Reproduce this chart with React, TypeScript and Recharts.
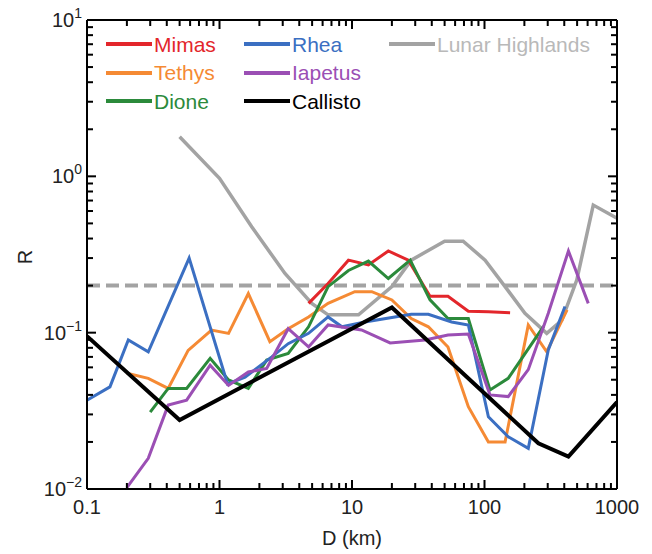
import React from 'react';
import { LineChart, Line, XAxis, YAxis, ReferenceLine } from 'recharts';

type Pt = { d: number; r: number };
const pts = (rows: number[][]): Pt[] => rows.map(([d, r]) => ({ d, r }));

// D (km) vs R
const mimas = pts([
  [4.7, 0.154], [6.6, 0.206], [9.4, 0.291], [13.3, 0.271], [18.8, 0.333], [26.6, 0.291],
  [38.8, 0.171], [53, 0.171], [75.5, 0.137], [107, 0.136], [156, 0.134],
]);
const tethys = pts([
  [0.2, 0.055], [0.29, 0.051], [0.41, 0.044], [0.58, 0.077], [0.87, 0.104], [1.17, 0.099],
  [1.65, 0.178], [2.4, 0.0875], [3.3, 0.106], [4.7, 0.126], [6.6, 0.154], [10.5, 0.183],
  [14.1, 0.183], [20, 0.162], [28, 0.123], [37.7, 0.109], [53, 0.081], [75.5, 0.0336],
  [107, 0.02], [143, 0.02], [214, 0.112], [295, 0.0755], [420, 0.14],
]);
const dione = pts([
  [0.3, 0.031], [0.41, 0.044], [0.565, 0.044], [0.85, 0.0686], [1.17, 0.0498], [1.65, 0.044],
  [2.27, 0.0668], [3.3, 0.0736], [4.7, 0.109], [6.6, 0.197], [9.4, 0.25], [13.3, 0.287],
  [18.8, 0.222], [27.5, 0.291], [38.8, 0.162], [53, 0.123], [75.5, 0.123], [110, 0.043],
  [151, 0.051], [280, 0.11],
]);
const rhea = pts([
  [0.1, 0.037], [0.149, 0.045], [0.205, 0.0897], [0.29, 0.0755], [0.59, 0.3], [1.15, 0.047],
  [1.56, 0.052], [2.48, 0.07], [3.3, 0.085], [4.7, 0.099], [6.6, 0.126], [8.4, 0.109],
  [12.5, 0.117], [20, 0.125], [28, 0.131], [37.7, 0.131], [56.5, 0.117], [75.5, 0.112],
  [107, 0.029], [151, 0.0216], [214, 0.0182], [303, 0.0775], [405, 0.147],
]);
const iapetus = pts([
  [0.2, 0.0102], [0.29, 0.0157], [0.41, 0.0344], [0.565, 0.037], [0.85, 0.062], [1.17, 0.046],
  [1.65, 0.056], [2.27, 0.059], [3.3, 0.106], [4.7, 0.081], [6.6, 0.112], [11.8, 0.104],
  [19.4, 0.086], [35.6, 0.0897], [53, 0.0966], [75.5, 0.098], [110, 0.04], [151, 0.039],
  [214, 0.058], [303, 0.133], [430, 0.333], [607, 0.154],
]);
const callisto = pts([
  [0.1, 0.095], [0.5, 0.0276], [20, 0.145], [255, 0.0196], [430, 0.0161], [1000, 0.036],
]);
const lunar = pts([
  [0.5, 1.79], [1.0, 0.97], [1.75, 0.476], [3.12, 0.239], [4.97, 0.154], [6.6, 0.13],
  [11.2, 0.13], [20, 0.197], [28, 0.291], [50, 0.385], [69, 0.385], [101, 0.291],
  [143, 0.197], [202, 0.133], [295, 0.099], [383, 0.12], [497, 0.217], [662, 0.655],
  [1000, 0.54],
]);

const threshold = 0.2;

const xMajor = [0.1, 1, 10, 100, 1000];
const yMajor = [0.01, 0.1, 1, 10];

const series = [
  { name: 'Lunar Highlands', data: lunar, color: '#a3a3a3', text: '#b9b9b9', width: 3.5 },
  { name: 'Mimas', data: mimas, color: '#e3262b', text: '#e3262b', width: 3 },
  { name: 'Tethys', data: tethys, color: '#f58a34', text: '#f58a34', width: 3 },
  { name: 'Dione', data: dione, color: '#2b8a3b', text: '#2b8a3b', width: 3 },
  { name: 'Rhea', data: rhea, color: '#3b6fc2', text: '#3b6fc2', width: 3 },
  { name: 'Iapetus', data: iapetus, color: '#9b4fb4', text: '#9b4fb4', width: 3 },
  { name: 'Callisto', data: callisto, color: '#000000', text: '#000000', width: 4 },
];
const legendOrder = ['Mimas', 'Tethys', 'Dione', 'Rhea', 'Iapetus', 'Callisto', 'Lunar Highlands'];

const FONT = '"Liberation Sans", Arial, Helvetica, sans-serif';

const withMinors = (majors: number[]) => {
  const out: number[] = [];
  majors.forEach((m, i) => {
    out.push(m);
    if (i < majors.length - 1) for (let k = 2; k <= 9; k++) out.push(+(m * k).toPrecision(6));
  });
  return out;
};
const xTicks = withMinors(xMajor);
const yTicks = withMinors(yMajor);

const isMajor = (v: number) => Math.abs(Math.log10(v) - Math.round(Math.log10(v))) < 1e-6;
const tickLen = (v: number) => (isMajor(v) ? 9 : 6);
const TICK_W = 2;
const TICK_C = '#000';

function BottomTick(props: any) {
  const { x, y, payload } = props;
  const v = Number(payload.value);
  return (
    <g>
      <rect x={x - TICK_W / 2} y={y - tickLen(v)} width={TICK_W} height={tickLen(v)} fill={TICK_C} />
      {isMajor(v) && (
        <text x={x} y={y + 25} textAnchor="middle" fontSize={20} fontFamily={FONT} fill="#222">
          {v}
        </text>
      )}
    </g>
  );
}

function TopTick(props: any) {
  const { x, y, payload } = props;
  const v = Number(payload.value);
  return <rect x={x - TICK_W / 2} y={y} width={TICK_W} height={tickLen(v)} fill={TICK_C} />;
}

function LeftTick(props: any) {
  const { x, y, payload } = props;
  const v = Number(payload.value);
  const exp = String(Math.round(Math.log10(v))).replace('-', '\u2212');
  return (
    <g>
      <rect x={x} y={y - TICK_W / 2} width={tickLen(v)} height={TICK_W} fill={TICK_C} />
      {isMajor(v) && (
        <text x={x - 5} y={y + 7} textAnchor="end" fontSize={20} fontFamily={FONT} fill="#222">
          <tspan>10</tspan>
          <tspan dy={-9} fontSize={14}>{exp}</tspan>
        </text>
      )}
    </g>
  );
}

function RightTick(props: any) {
  const { x, y, payload } = props;
  const v = Number(payload.value);
  return <rect x={x - tickLen(v)} y={y - TICK_W / 2} width={tickLen(v)} height={TICK_W} fill={TICK_C} />;
}

const axisLine = { stroke: '#000', strokeWidth: 2 };

export default function App() {
  const legend = legendOrder.map((n) => series.find((s) => s.name === n)!);
  return (
    <div style={{ position: 'absolute', left: 0, top: 0, width: 652, height: 554, background: '#fff' }}>
      <LineChart width={652} height={554} margin={{ top: 19, right: 34, bottom: 20, left: 27 }}>
        <XAxis
          dataKey="d"
          type="number"
          scale="log"
          domain={[0.1, 1000]}
          allowDataOverflow
          ticks={xTicks}
          interval={0}
          height={45}
          tickSize={0}
          tickMargin={0}
          tickLine={false}
          axisLine={axisLine}
          tick={(p: any) => <BottomTick {...p} />}
        />
        <XAxis
          xAxisId="top"
          orientation="top"
          dataKey="d"
          type="number"
          scale="log"
          domain={[0.1, 1000]}
          allowDataOverflow
          ticks={xTicks}
          interval={0}
          height={1}
          tickSize={0}
          tickMargin={0}
          tickLine={false}
          axisLine={axisLine}
          tick={(p: any) => <TopTick {...p} />}
        />
        <YAxis
          type="number"
          scale="log"
          domain={[0.01, 10]}
          allowDataOverflow
          ticks={yTicks}
          interval={0}
          width={60}
          tickSize={0}
          tickMargin={0}
          tickLine={false}
          axisLine={axisLine}
          tick={(p: any) => <LeftTick {...p} />}
        />
        <YAxis
          yAxisId="right"
          orientation="right"
          type="number"
          scale="log"
          domain={[0.01, 10]}
          allowDataOverflow
          ticks={yTicks}
          interval={0}
          width={1}
          tickSize={0}
          tickMargin={0}
          tickLine={false}
          axisLine={axisLine}
          tick={(p: any) => <RightTick {...p} />}
        />
        <ReferenceLine y={threshold} stroke="#a3a3a3" strokeWidth={4} strokeDasharray="13 6" />
        {series.map((s) => (
          <Line
            key={s.name}
            data={s.data}
            dataKey="r"
            name={s.name}
            type="linear"
            stroke={s.color}
            strokeWidth={s.width}
            strokeLinejoin="miter"
            dot={false}
            activeDot={false}
            isAnimationActive={false}
          />
        ))}
      </LineChart>

      {/* legend */}
      <div
        style={{
          position: 'absolute',
          left: 106,
          top: 30,
          display: 'grid',
          gridTemplateColumns: '138px 145px auto',
          gridTemplateRows: 'repeat(3, 28.5px)',
          gridAutoFlow: 'column',
          fontFamily: FONT,
          fontSize: 21,
          lineHeight: 1,
        }}
      >
        {legend.map((s) => (
          <div key={s.name} style={{ display: 'flex', alignItems: 'center', whiteSpace: 'nowrap' }}>
            <span style={{ display: 'inline-block', width: 46, height: 4, background: s.color, marginRight: 2 }} />
            <span style={{ color: s.text }}>{s.name}</span>
          </div>
        ))}
      </div>

      {/* axis titles */}
      <div
        style={{
          position: 'absolute',
          left: 352,
          top: 538,
          transform: 'translate(-50%, -50%)',
          fontFamily: FONT,
          fontSize: 20,
          lineHeight: 1,
          color: '#222',
          whiteSpace: 'nowrap',
        }}
      >
        D (km)
      </div>
      <div
        style={{
          position: 'absolute',
          left: 25,
          top: 257,
          transform: 'translate(-50%, -50%) rotate(-90deg)',
          fontFamily: FONT,
          fontSize: 20,
          lineHeight: 1,
          color: '#222',
        }}
      >
        R
      </div>
    </div>
  );
}
